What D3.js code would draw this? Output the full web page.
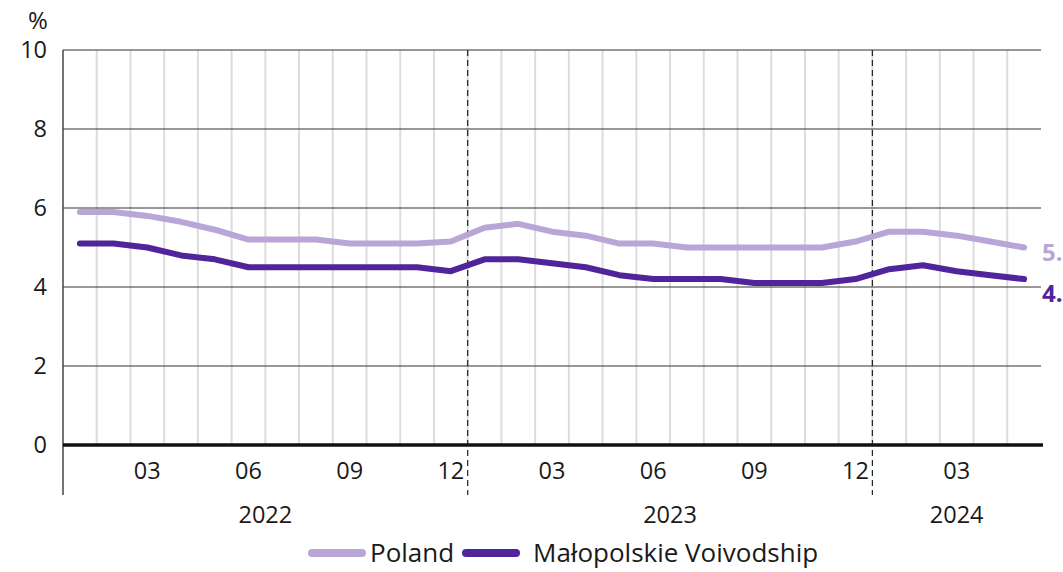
<!DOCTYPE html>
<html>
<head>
<meta charset="utf-8">
<title>Unemployment rate</title>
<script src="https://d3js.org/d3.v7.min.js"></script>
<style>
  body { margin: 0; background: #fff; }
  text { font-family: "Open Sans", "Noto Sans", sans-serif; fill: #1a1a1a; }
</style>
</head>
<body>
<script>
const months = [
  "2022-01","2022-02","2022-03","2022-04","2022-05","2022-06","2022-07","2022-08","2022-09","2022-10","2022-11","2022-12",
  "2023-01","2023-02","2023-03","2023-04","2023-05","2023-06","2023-07","2023-08","2023-09","2023-10","2023-11","2023-12",
  "2024-01","2024-02","2024-03","2024-04","2024-05"
];
const poland = [5.9,5.9,5.8,5.65,5.45,5.2,5.2,5.2,5.1,5.1,5.1,5.15,
  5.5,5.6,5.4,5.3,5.1,5.1,5.0,5.0,5.0,5.0,5.0,5.15,
  5.4,5.4,5.3,5.15,5.0];
const malopolska = [5.1,5.1,5.0,4.8,4.7,4.5,4.5,4.5,4.5,4.5,4.5,4.4,
  4.7,4.7,4.6,4.5,4.3,4.2,4.2,4.2,4.1,4.1,4.1,4.2,
  4.45,4.55,4.4,4.3,4.2];
const yTicks = [0, 2, 4, 6, 8, 10];
const shownMonths = ["03", "06", "09", "12"];
const years = ["2022", "2023", "2024"];
const seriesNames = ["Poland", "Małopolskie Voivodship"];
// end labels run off the page in the original, only "5." / "4." are visible
const endLabels = ["5.", "4."];

const colors = ["#b9a6d7", "#50249b"];

let width = 1063, height = 572;
let plotLeft = 63, plotRight = 1041, plotTop = 50, zeroY = 445, axisBottom = 495;
let fs = "23.5px";

let svg = d3.select("body").append("svg")
    .attr("width", width)
    .attr("height", height);

let x = d3.scaleLinear().domain([0, months.length]).range([plotLeft, plotRight]);
let y = d3.scaleLinear().domain([0, 10]).range([zeroY, plotTop]);

// light vertical month separators
svg.append("g").selectAll("line")
    .data(d3.range(1, months.length))
    .join("line")
    .attr("x1", d => x(d)).attr("x2", d => x(d))
    .attr("y1", plotTop).attr("y2", zeroY)
    .style("stroke", "#dcdcdc")
    .style("stroke-width", 2);

// horizontal grid lines
svg.append("g").selectAll("line")
    .data(yTicks.filter(d => d > 0))
    .join("line")
    .attr("x1", plotLeft).attr("x2", plotRight)
    .attr("y1", d => y(d)).attr("y2", d => y(d))
    .style("stroke", "#333")
    .style("stroke-width", 1.2);

// year separators
let yearStarts = months.map((m, i) => [m, i]).filter(d => d[0].endsWith("-01") && d[1] > 0).map(d => d[1]);
svg.append("g").selectAll("line")
    .data(yearStarts)
    .join("line")
    .attr("x1", d => x(d)).attr("x2", d => x(d))
    .attr("y1", plotTop).attr("y2", axisBottom)
    .style("stroke", "#222")
    .style("stroke-width", 1.2)
    .style("stroke-dasharray", "6,4");

// left axis line
svg.append("line")
    .attr("x1", plotLeft).attr("x2", plotLeft)
    .attr("y1", plotTop).attr("y2", axisBottom)
    .style("stroke", "#444")
    .style("stroke-width", 1.5);

// zero line
svg.append("line")
    .attr("x1", plotLeft).attr("x2", plotRight + 2)
    .attr("y1", y(0)).attr("y2", y(0))
    .style("stroke", "#111")
    .style("stroke-width", 3.5);

// y tick labels
svg.append("g").selectAll("text")
    .data(yTicks)
    .join("text")
    .attr("x", 47)
    .attr("y", d => y(d))
    .attr("dy", "0.35em")
    .attr("text-anchor", "end")
    .style("font-size", fs)
    .text(d => d);

svg.append("text")
    .attr("x", 38).attr("y", 29)
    .attr("text-anchor", "middle")
    .style("font-size", "24px")
    .text("%");

// month labels
svg.append("g").selectAll("text")
    .data(months.map((m, i) => [m.slice(5), i]).filter(d => shownMonths.includes(d[0])))
    .join("text")
    .attr("x", d => x(d[1] + 0.5))
    .attr("y", 471)
    .attr("dy", "0.35em")
    .attr("text-anchor", "middle")
    .style("font-size", fs)
    .text(d => d[0]);

// year labels
svg.append("g").selectAll("text")
    .data(years)
    .join("text")
    .attr("x", yr => {
        let idx = months.map((m, i) => [m, i]).filter(d => d[0].startsWith(yr)).map(d => d[1]);
        return x((d3.min(idx) + d3.max(idx) + 1) / 2);
    })
    .attr("y", 515)
    .attr("dy", "0.35em")
    .attr("text-anchor", "middle")
    .style("font-size", fs)
    .text(d => d);

// series lines
let line = d3.line()
    .x((d, i) => x(i + 0.5))
    .y(d => y(d));

[poland, malopolska].forEach((s, k) => {
    svg.append("path")
        .datum(s)
        .attr("d", line)
        .style("fill", "none")
        .style("stroke", colors[k])
        .style("stroke-width", 6)
        .style("stroke-linejoin", "round")
        .style("stroke-linecap", "round");
});

// end labels
let last = months.length - 1;
svg.append("text")
    .attr("x", 1042).attr("y", y(poland[last]) + 5)
    .attr("dy", "0.35em")
    .style("font-size", "24px").style("font-weight", "bold")
    .style("fill", colors[0])
    .text(endLabels[0]);
svg.append("text")
    .attr("x", 1042).attr("y", y(malopolska[last]) + 14)
    .attr("dy", "0.35em")
    .style("font-size", "24px").style("font-weight", "bold")
    .style("fill", colors[1])
    .text(endLabels[1]);

// legend
let legend = svg.append("g");
let legendPos = [[308, 370], [462, 533]];
seriesNames.forEach((n, k) => {
    legend.append("line")
        .attr("x1", legendPos[k][0] + 4).attr("x2", legendPos[k][0] + 54)
        .attr("y1", 553).attr("y2", 553)
        .style("stroke", colors[k])
        .style("stroke-width", 8)
        .style("stroke-linecap", "round");
    legend.append("text")
        .attr("x", legendPos[k][1]).attr("y", 553)
        .attr("dy", "0.35em")
        .style("font-size", "26px")
        .text(n);
});
</script>
</body>
</html>
